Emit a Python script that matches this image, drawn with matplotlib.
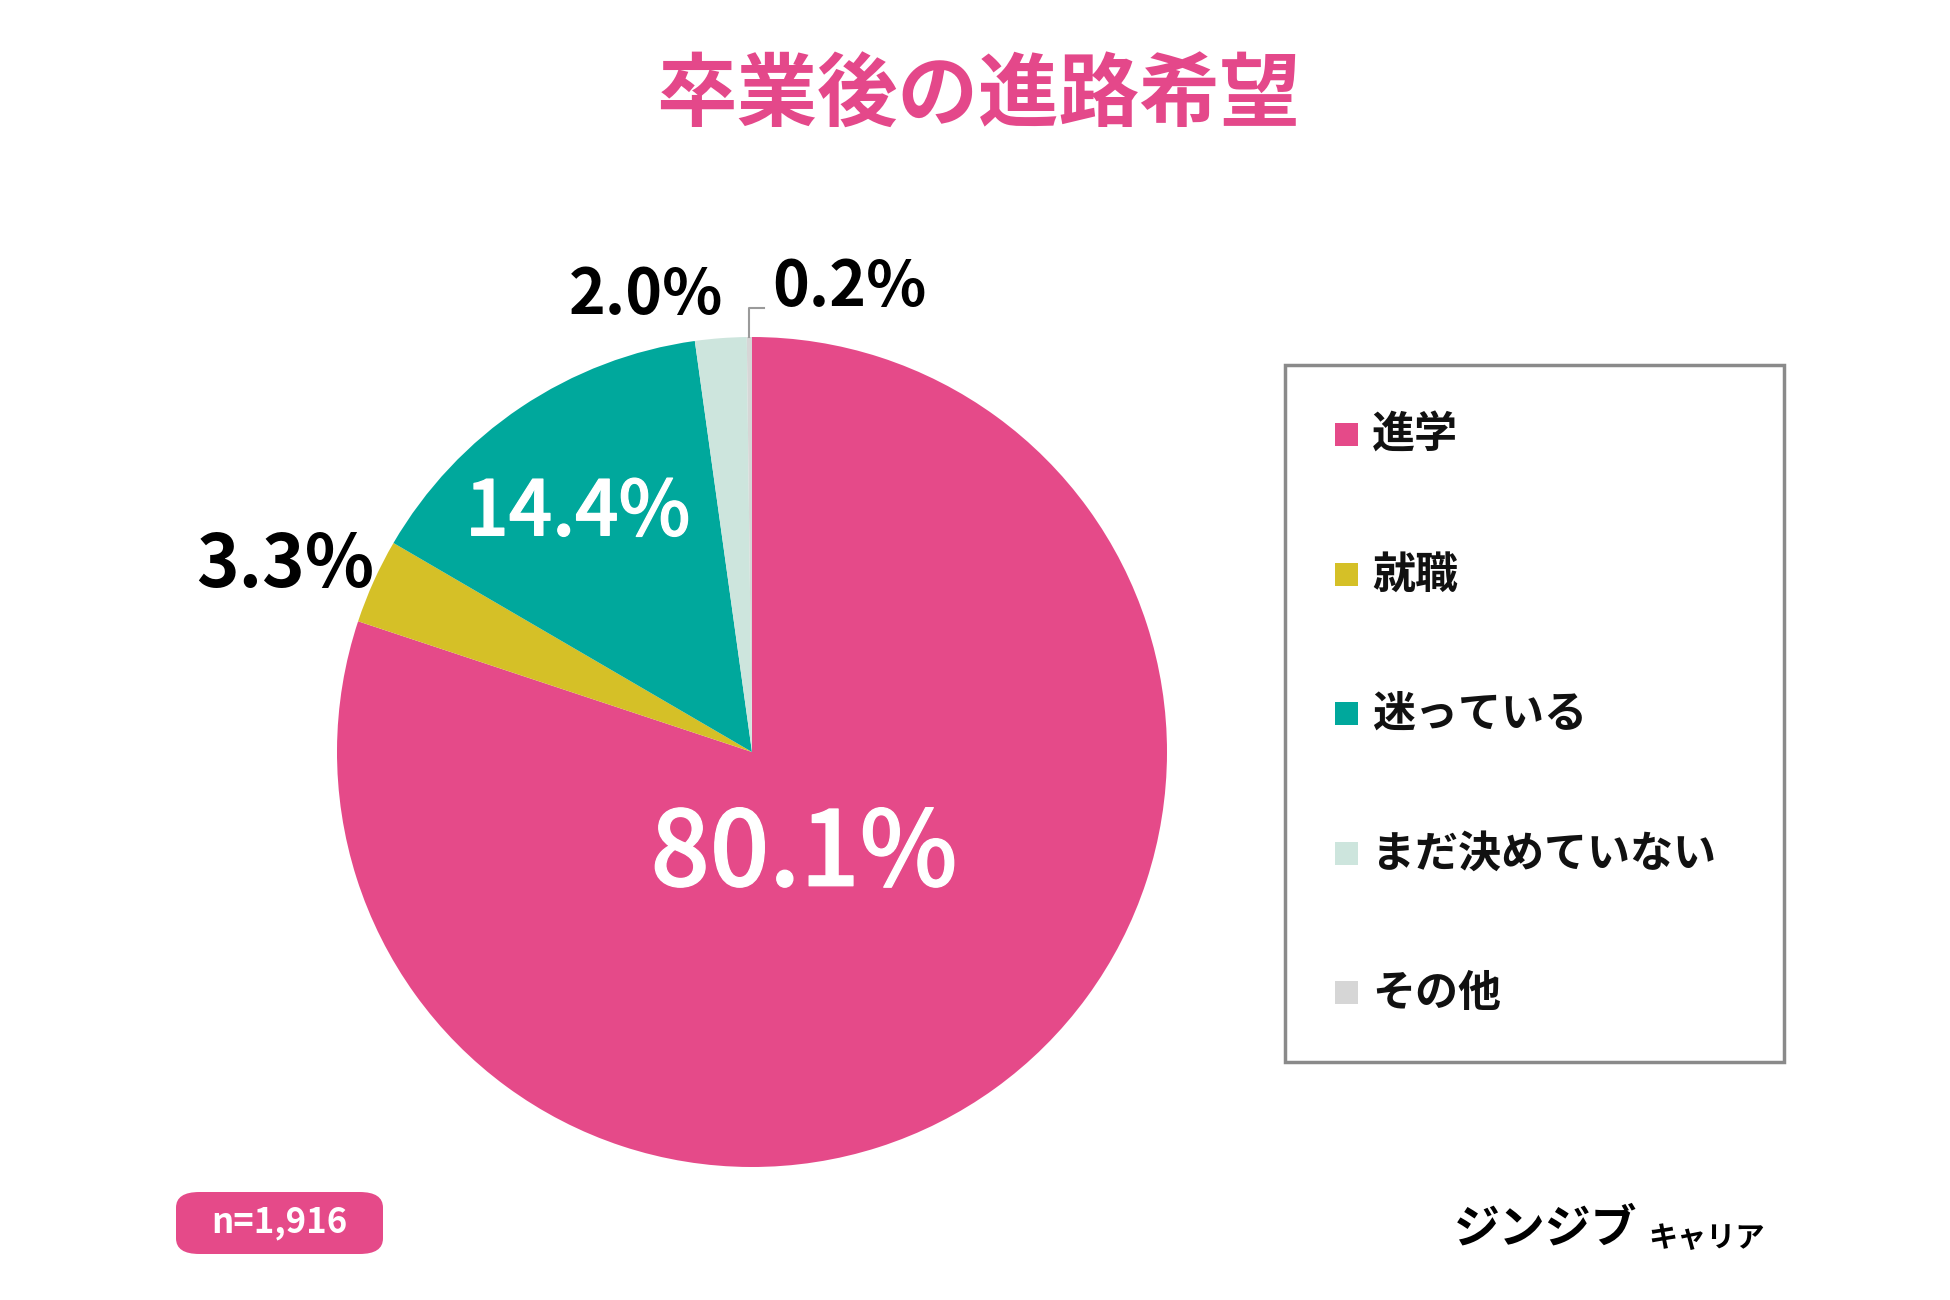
import matplotlib
matplotlib.use('Agg')
import matplotlib.pyplot as plt
import matplotlib.patheffects as pe
from matplotlib.patches import FancyBboxPatch, Rectangle

plt.rcParams['font.family'] = ['Noto Sans CJK JP', 'DejaVu Sans']

# data
categories = ['進学', '就職', '迷っている', 'まだ決めていない', 'その他']
shares = [80.1, 3.3, 14.4, 2.0, 0.2]
colors = ['#E54A89', '#D5C027', '#00A89C', '#CDE5DD', '#D6D6D6']
title = '卒業後の進路希望'
sample = 'n=1,916'

# label layout (pie data units, radius = 1)
label_pos = [(0.125, -0.25), (-1.125, 0.45), (-0.42, 0.575), (-0.255, 1.10), (0.235, 1.12)]
label_size = [75, 52, 55, 45, 45]
label_color = ['white', 'black', 'white', 'black', 'black']
label_weight = ['medium', 'bold', 'medium', 'bold', 'bold']

W, H = 1950, 1300
fig = plt.figure(figsize=(W / 100, H / 100), dpi=100)

# pie, centre (752, 752) px, radius 415 px
cx, cy, r = 752, 752, 415
ax = fig.add_axes([(cx - r) / W, (H - cy - r) / H, 2 * r / W, 2 * r / H])
wedges, _ = ax.pie(shares, colors=colors, startangle=90, counterclock=False,
                   radius=1, wedgeprops=dict(linewidth=0))
ax.set_xlim(-1, 1)
ax.set_ylim(-1, 1)
ax.set_aspect('equal')
ax.axis('off')

for v, (x, y), s, c, w in zip(shares, label_pos, label_size, label_color, label_weight):
    t = ax.text(x, y, f'{v:.1f}%', fontsize=s, color=c, ha='center', va='center',
                fontweight=w, clip_on=False)
    if c == 'white':
        # a touch heavier than regular, like the original
        t.set_path_effects([pe.withStroke(linewidth=0.9, foreground=c)])

# leader for the tiny slice
ax.plot([-0.008, -0.008, 0.03], [1.0, 1.07, 1.07], color='#9a9a9a', lw=1.5,
        clip_on=False)

# title
fig.text(978 / W, 1 - 97 / H, title, fontsize=58, fontweight='bold',
         color='#E4488A', ha='center', va='center')

# legend box
fig.patches.append(Rectangle((1285 / W, 1 - 1062 / H), 499 / W, 697 / H,
                             transform=fig.transFigure, fill=False,
                             edgecolor='#8a8a8a', lw=2.5))
for i, (name, c) in enumerate(zip(categories, colors)):
    yc = 435 + 139.5 * i
    fig.patches.append(Rectangle((1335 / W, 1 - (yc + 11) / H), 23 / W, 23 / H,
                                 transform=fig.transFigure, color=c, lw=0))
    fig.text(1372 / W, 1 - yc / H, name, fontsize=31, fontweight='bold',
             color='#111111', ha='left', va='center')

# sample size badge
fig.patches.append(FancyBboxPatch((176 / W, 1 - 1254 / H), 207 / W, 62 / H,
                                  boxstyle='round,pad=0,rounding_size=0.012',
                                  transform=fig.transFigure,
                                  facecolor='#E54A89', edgecolor='none'))
fig.text(279 / W, 1 - 1223 / H, sample, fontsize=25, fontweight='bold',
         color='white', ha='center', va='center')

# logo
fig.text(1454 / W, 1 - 1230 / H, 'ジンジブ', fontsize=33, fontweight='bold',
         color='black', ha='left', va='center')
fig.text(1648 / W, 1 - 1238 / H, 'キャリア', fontsize=21, fontweight='bold',
         color='black', ha='left', va='center')

fig.savefig('out.png', dpi=100, facecolor='white')
